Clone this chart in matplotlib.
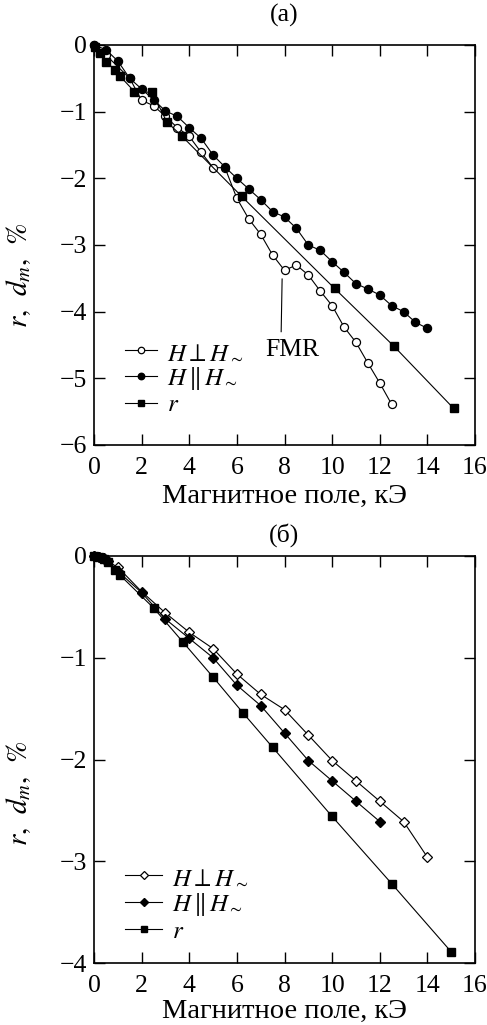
import matplotlib
matplotlib.use("Agg")
import matplotlib.pyplot as plt

plt.rcParams['font.family'] = ['Liberation Serif', 'DejaVu Serif']
plt.rcParams['mathtext.fontset'] = 'stix'

# ---- panel (a) data ----
a_perp_x = [0, 0.5, 1.5, 2.0, 2.5, 3.0, 3.5, 4.0, 4.5, 5.0, 5.5, 6.0, 6.5, 7.0, 7.5,
            8.0, 8.5, 9.0, 9.5, 10.0, 10.5, 11.0, 11.5, 12.0, 12.5]
a_perp_y = [0, -0.15, -0.5, -0.83, -0.91, -1.07, -1.24, -1.37, -1.61, -1.84, -1.84,
            -2.30, -2.61, -2.84, -3.15, -3.38, -3.30, -3.45, -3.69, -3.91, -4.23,
            -4.46, -4.77, -5.07, -5.39]
a_par_x = [0, 0.5, 1.0, 1.5, 2.0, 2.5, 3.0, 3.5, 4.0, 4.5, 5.0, 5.5, 6.0, 6.5, 7.0,
           7.5, 8.0, 8.5, 9.0, 9.5, 10.0, 10.5, 11.0, 11.5, 12.0, 12.5, 13.0, 13.5, 14.0]
a_par_y = [0, -0.07, -0.24, -0.50, -0.66, -0.82, -0.99, -1.07, -1.24, -1.40, -1.65,
           -1.83, -2.00, -2.16, -2.32, -2.50, -2.58, -2.75, -3.00, -3.08, -3.25,
           -3.41, -3.58, -3.66, -3.75, -3.91, -4.00, -4.16, -4.25]
a_r_x = [0.05, 0.25, 0.5, 0.9, 1.1, 1.7, 2.45, 3.05, 3.7, 6.2, 10.1, 12.6, 15.1]
a_r_y = [-0.03, -0.12, -0.25, -0.38, -0.47, -0.70, -0.71, -1.15, -1.37, -2.27,
         -3.65, -4.52, -5.45]

# ---- panel (б) data ----
b_perp_x = [0, 0.2, 0.4, 1.0, 2.0, 3.0, 4.0, 5.0, 6.0, 7.0, 8.0, 9.0, 10.0, 11.0,
            12.0, 13.0, 14.0]
b_perp_y = [0, -0.01, -0.03, -0.11, -0.35, -0.56, -0.75, -0.91, -1.16, -1.36,
            -1.51, -1.76, -2.01, -2.21, -2.41, -2.61, -2.96]
b_par_x = [0, 0.2, 0.4, 0.6, 1.0, 2.0, 3.0, 4.0, 5.0, 6.0, 7.0, 8.0, 9.0, 10.0,
           11.0, 12.0]
b_par_y = [0, -0.01, -0.02, -0.05, -0.15, -0.36, -0.62, -0.81, -1.00, -1.27,
           -1.47, -1.74, -2.01, -2.21, -2.41, -2.61]
b_r_x = [0, 0.2, 0.4, 0.6, 0.9, 1.1, 2.5, 3.75, 5.0, 6.25, 7.5, 10.0, 12.5, 15.0]
b_r_y = [0, -0.01, -0.03, -0.06, -0.14, -0.19, -0.51, -0.85, -1.19, -1.54, -1.88,
         -2.56, -3.22, -3.89]

lbl_perp = r'$H\perp H_{\sim}$'
lbl_par = r'$H\,\|\,H_{\sim}$'
lbl_r = r'$r$'
xlabel = 'Магнитное поле, кЭ'
ylabel = r'$r,\;\,d_m,\;\,\%$'

FS = 18.5
FSL = 18
fig = plt.figure(figsize=(4.87, 10.25), dpi=100)

def style(ax, ylim, yticks, xlabelpad):
    ax.set_xlim(0, 16)
    ax.set_ylim(*ylim)
    ax.set_xticks(range(0, 17, 2))
    ax.set_yticks(yticks)
    ax.tick_params(direction='in', length=8, width=1.0, top=True, right=True,
                   labelsize=FS)
    ax.tick_params(axis='x', pad=9)
    ax.tick_params(axis='y', pad=5)
    for s in ax.spines.values():
        s.set_linewidth(1.2)
    ax.set_xlabel(xlabel, fontsize=20.5, labelpad=xlabelpad)
    ax.set_ylabel(ylabel, fontsize=21)

lw = 0.8
ms = 5.8

# panel (a)
ax1 = fig.add_axes([94/487, 1 - 445/1025, 381/487, 400/1025])
ax1.plot(a_perp_x, a_perp_y, '-o', color='black', mfc='white', mec='black', lw=lw,
         ms=ms, mew=0.9, label=lbl_perp, clip_on=False, zorder=3)
ax1.plot(a_par_x, a_par_y, '-o', color='black', lw=lw, ms=ms, label=lbl_par,
         clip_on=False, zorder=3)
ax1.plot(a_r_x, a_r_y, '-s', color='black', lw=lw, ms=ms - 0.6, label=lbl_r,
         clip_on=False, zorder=3)
style(ax1, (-6, 0), range(-6, 1), 3)
ax1.yaxis.set_label_coords(-0.16, 0.425)
ax1.plot([7.9, 7.86], [-3.51, -4.30], color='black', lw=0.8)
ax1.text(8.35, -4.57, 'FMR', fontsize=FS, ha='center', va='center')
ax1.legend(loc='upper left', bbox_to_anchor=(0.081, 0.26), frameon=False,
           fontsize=FSL, handlelength=1.3, handletextpad=0.4, borderpad=0,
           borderaxespad=0, labelspacing=0.07, markerscale=0.8)
fig.text(284/487, 1 - 15/1025, '(а)', fontsize=FS, ha='center', va='center')

# panel (б)
ax2 = fig.add_axes([94/487, 1 - 963/1025, 381/487, 407/1025])
ax2.plot(b_perp_x, b_perp_y, '-D', color='black', mfc='white', mec='black', lw=lw,
         ms=ms - 0.6, mew=0.9, label=lbl_perp, clip_on=False, zorder=3)
ax2.plot(b_par_x, b_par_y, '-D', color='black', lw=lw, ms=ms - 0.6, label=lbl_par,
         clip_on=False, zorder=3)
ax2.plot(b_r_x, b_r_y, '-s', color='black', lw=lw, ms=ms - 0.6, label=lbl_r,
         clip_on=False, zorder=3)
style(ax2, (-4, 0), range(-4, 1), 1)
ax2.yaxis.set_label_coords(-0.16, 0.418)
ax2.legend(loc='upper left', bbox_to_anchor=(0.081, 0.238), frameon=False,
           fontsize=FSL, handlelength=1.5, handletextpad=0.4, borderpad=0,
           borderaxespad=0, labelspacing=0.1, markerscale=0.8)
fig.text(284/487, 1 - 535/1025, '(б)', fontsize=FS, ha='center', va='center')

fig.savefig('out.png', dpi=100)
